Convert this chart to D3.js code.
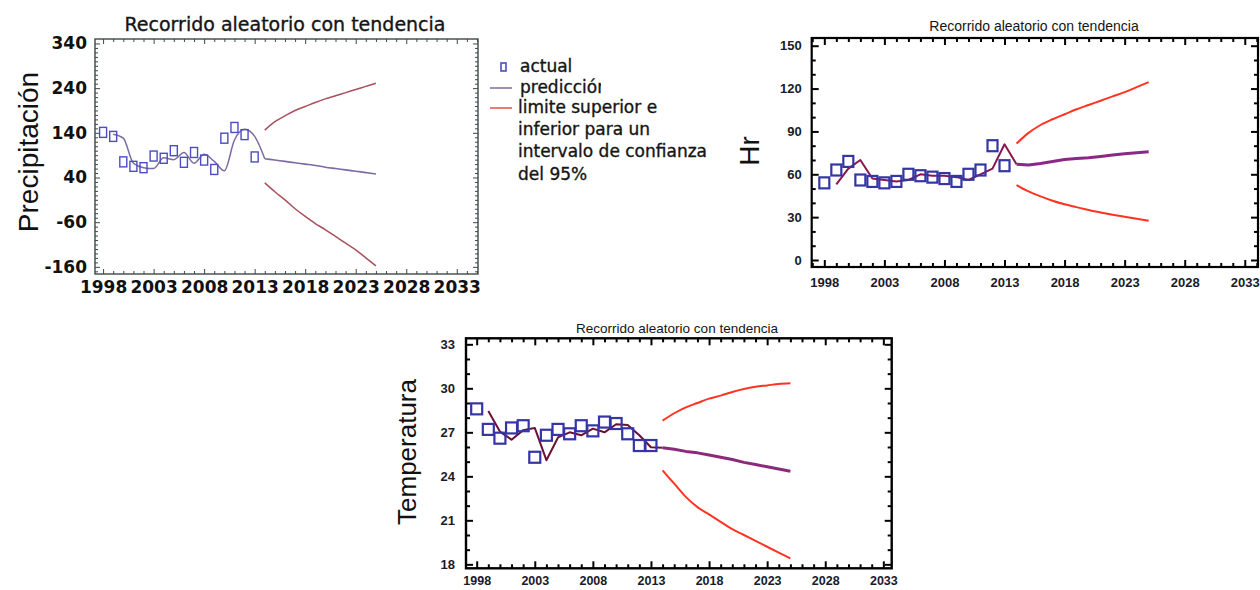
<!DOCTYPE html>
<html><head><meta charset="utf-8">
<script src="https://cdn.jsdelivr.net/npm/d3@7"></script>
<style>body{margin:0;background:#fff}svg{display:block}</style>
</head><body>
<svg id="c" width="1260" height="590"></svg>
<script>
// ---------------- data ----------------
const yearsObs = [1998,1999,2000,2001,2002,2003,2004,2005,2006,2007,2008,2009,2010,2011,2012,2013];
const yearsFit = [1999,2000,2001,2002,2003,2004,2005,2006,2007,2008,2009,2010,2011,2012,2013];
const yearsFc  = [2014,2015,2016,2017,2018,2019,2020,2021,2022,2023,2024,2025];
const xTickYears = [1998,2003,2008,2013,2018,2023,2028,2033];
const chartTitle = "Recorrido aleatorio con tendencia";

// Precipitación
const precipActual   = [141,132,75,65,62,88,83,100,74,96,79,58,128,152,136,86];
const precipFitted   = [137,128,72,62,60,84,80,96,72,92,76,55,124,148,132];
const precipForecast = [82,79,76,73,70,67,63,60,57,54,51,48];
const precipUpper    = [146,165,178,190,199,208,216,223,230,237,244,251];
const precipLower    = [28,8,-10,-30,-47,-63,-77,-92,-107,-122,-140,-158];
const precipTicks    = [340,240,140,40,-60,-160];

// Hr
const hrActual   = [54,63,69,56,55,54,55,60,59,58,57,55,60,63,80,66];
const hrFitted   = [53,64,70,57,56,55,56,60,59,59,58,56,60,64,81];
const hrForecast = [67,66.5,67.5,69,70.4,71,71.5,72.5,73.5,74.3,75,75.7];
const hrUpper    = [81.5,89,94.5,98.5,102,105.5,108.5,111.5,114.5,117.5,121,124.5];
const hrLower    = [52.5,48,44.5,41.5,39,37,35,33.3,31.7,30.2,28.8,27.5];
const hrTicks    = [0,30,60,90,120,150];

// Temperatura
const tempActual   = [28.6,27.2,26.6,27.3,27.45,25.3,26.8,27.2,26.9,27.45,27.1,27.7,27.6,26.9,26.1,26.1];
const tempFitted   = [28.45,27.05,26.5,27.15,27.3,25.1,26.65,27.0,26.8,27.25,27.0,27.55,27.5,26.8,25.98];
const tempForecast = [25.95,25.85,25.7,25.6,25.45,25.3,25.15,24.95,24.8,24.65,24.5,24.35];
const tempUpper    = [27.8,28.3,28.7,29.0,29.3,29.5,29.75,29.95,30.1,30.2,30.3,30.35];
const tempLower    = [24.4,23.5,22.6,21.9,21.4,20.9,20.4,20.0,19.6,19.2,18.8,18.4];
const tempTicks    = [18,21,24,27,30,33];

const legendLabels = ["actual","predicción","limite superior e","inferior para un","intervalo de confianza","del 95%"];

// ---------------- drawing ----------------
const svg = d3.select("#c");
const fmtTick = d => String(d);

function drawPanel(c) {
  const g = svg.append("g");
  const x = d3.scaleLinear().domain(c.xDomain).range([c.left, c.right]);
  const y = d3.scaleLinear().domain(c.yDomain).range([c.bottom, c.top]);

  const xMinor = d3.range(Math.ceil(c.xDomain[0]), Math.floor(c.xDomain[1]) + 1).filter(v => !xTickYears.includes(v));
  const yMinor = d3.range(Math.ceil(c.yDomain[0] / c.yMinorStep) * c.yMinorStep, c.yDomain[1], c.yMinorStep)
                   .filter(v => !c.yTicks.some(t => Math.abs(t - v) < 1e-6));

  const sides = [
    {ax: d3.axisBottom, s: x, tr: `translate(0,${c.bottom})`, major: xTickYears, minor: xMinor, lab: true, pad: c.xPad, fs: c.xFont},
    {ax: d3.axisTop,    s: x, tr: `translate(0,${c.top})`,    major: xTickYears, minor: xMinor, lab: false},
    {ax: d3.axisLeft,   s: y, tr: `translate(${c.left},0)`,   major: c.yTicks,   minor: yMinor, lab: true, pad: c.yPad, fs: c.yFont},
    {ax: d3.axisRight,  s: y, tr: `translate(${c.right},0)`,  major: c.yTicks,   minor: yMinor, lab: false}
  ];
  sides.forEach(sd => {
    const gm = g.append("g").attr("transform", sd.tr)
      .call(sd.ax(sd.s).tickValues(sd.minor).tickSize(-c.minorLen).tickFormat(""));
    gm.select(".domain").remove();
    gm.selectAll(".tick line").attr("stroke", c.frameColor).attr("stroke-width", c.tickWidth);
    const ga = g.append("g").attr("transform", sd.tr)
      .call(sd.ax(sd.s).tickValues(sd.major).tickSize(-c.majorLen)
        .tickPadding(sd.pad || 3).tickFormat(sd.lab ? fmtTick : ""));
    ga.select(".domain").remove();
    ga.selectAll(".tick line").attr("stroke", c.frameColor).attr("stroke-width", c.tickWidth);
    ga.selectAll(".tick text").attr("font-family", c.tickFamily).attr("font-weight", "bold")
      .attr("font-size", sd.fs).attr("fill", c.tickColor);
  });

  g.append("rect").attr("x", c.left).attr("y", c.top)
    .attr("width", c.right - c.left).attr("height", c.bottom - c.top)
    .attr("fill", "none").attr("stroke", c.frameColor).attr("stroke-width", c.frameWidth);

  // title
  g.append("text").attr("x", c.titleX).attr("y", c.titleY).attr("text-anchor", "middle")
    .attr("font-family", c.titleFamily).attr("font-size", c.titleSize).attr("fill", "#151515")
    .attr("stroke", "#151515").attr("stroke-width", c.titleStroke)
    .text(chartTitle);
  // y label
  g.append("text").attr("transform", `translate(${c.ylabX},${c.ylabY}) rotate(-90)`)
    .attr("text-anchor", "middle").attr("font-family", "Liberation Sans, Arial, sans-serif")
    .attr("font-size", c.ylabSize).attr("fill", "#111").text(c.ylab);

  // limits
  const lineFc = d3.line().x((d, i) => x(yearsFc[i])).y(d => y(d)).curve(d3.curveMonotoneX);
  [c.upper, c.lower].forEach(arr => {
    g.append("path").attr("d", lineFc(arr)).attr("fill", "none")
      .attr("stroke", c.limitColor).attr("stroke-width", c.limitWidth);
  });

  // fitted (historical) + first forecast step
  const fitPts = c.fitted.map((v, i) => [yearsFit[i], v]).concat([[yearsFc[0], c.forecast[0]]]);
  const fcPts = c.forecast.map((v, i) => [yearsFc[i], v]);
  const ln = d3.line().x(d => x(d[0])).y(d => y(d[1])).curve(c.curve);
  g.append("path").attr("d", ln(fitPts)).attr("fill", "none")
    .attr("stroke", c.fitColor).attr("stroke-width", c.fitWidth).attr("stroke-linejoin", "round");
  g.append("path").attr("d", ln(fcPts)).attr("fill", "none")
    .attr("stroke", c.fcColor).attr("stroke-width", c.fcWidth).attr("stroke-linejoin", "round");

  // actual squares
  g.selectAll("rect.act").data(c.actual).enter().append("rect").attr("class", "act")
    .attr("x", (d, i) => x(yearsObs[i]) - c.sqW / 2).attr("y", d => y(d) - c.sqH / 2)
    .attr("width", c.sqW).attr("height", c.sqH)
    .attr("fill", "none").attr("stroke", c.actColor).attr("stroke-width", c.sqStroke);
}

// Panel 1: Precipitación
drawPanel({
  left: 95, right: 478, top: 39, bottom: 274,
  xDomain: [1997.2, 2035.1], yDomain: [-176, 350],
  yTicks: precipTicks, yMinorStep: 10,
  actual: precipActual, fitted: precipFitted, forecast: precipForecast, upper: precipUpper, lower: precipLower,
  frameColor: "#3c4848", frameWidth: 1.4, tickWidth: 1, majorLen: 5, minorLen: 3,
  tickFamily: "DejaVu Sans, sans-serif", tickColor: "#111", xFont: 17, yFont: 17, xPad: 7, yPad: 8,
  titleX: 285, titleY: 31, titleFamily: "DejaVu Sans, sans-serif", titleSize: 19, titleStroke: 0.35,
  ylab: "Precipitación", ylabX: 38, ylabY: 152, ylabSize: 28,
  limitColor: "#a8505c", limitWidth: 1.5,
  fitColor: "#7c6aa0", fitWidth: 1.5, fcColor: "#7c6aa0", fcWidth: 1.6, curve: d3.curveMonotoneX,
  actColor: "#4c4cc4", sqW: 7, sqH: 10, sqStroke: 1.4
});

// Panel 2: Hr
drawPanel({
  left: 811.7, right: 1258, top: 38, bottom: 267,
  xDomain: [1996.95, 2034.1], yDomain: [-4.9, 155.4],
  yTicks: hrTicks, yMinorStep: 10,
  actual: hrActual, fitted: hrFitted, forecast: hrForecast, upper: hrUpper, lower: hrLower,
  frameColor: "#000", frameWidth: 2.2, tickWidth: 2, majorLen: 7, minorLen: 4,
  tickFamily: "Liberation Sans, Arial, sans-serif", tickColor: "#1a1a2a", xFont: 13, yFont: 13, xPad: 11, yPad: 10,
  titleX: 1034, titleY: 31, titleFamily: "Liberation Sans, Arial, sans-serif", titleSize: 14, titleStroke: 0,
  ylab: "Hr", ylabX: 759, ylabY: 151, ylabSize: 28,
  limitColor: "#ff3322", limitWidth: 2,
  fitColor: "#8a1550", fitWidth: 2, fcColor: "#8b2787", fcWidth: 3, curve: d3.curveLinear,
  actColor: "#3535a5", sqW: 10, sqH: 11, sqStroke: 2.2
});

// Panel 3: Temperatura
drawPanel({
  left: 466, right: 891.7, top: 338.3, bottom: 568.3,
  xDomain: [1997.08, 2033.72], yDomain: [17.73, 33.41],
  yTicks: tempTicks, yMinorStep: 1,
  actual: tempActual, fitted: tempFitted, forecast: tempForecast, upper: tempUpper, lower: tempLower,
  frameColor: "#000", frameWidth: 2.4, tickWidth: 2, majorLen: 7, minorLen: 4,
  tickFamily: "Liberation Sans, Arial, sans-serif", tickColor: "#1a1a2a", xFont: 12.5, yFont: 13, xPad: 7.5, yPad: 11,
  titleX: 677, titleY: 333, titleFamily: "Liberation Sans, Arial, sans-serif", titleSize: 13.5, titleStroke: 0,
  ylab: "Temperatura", ylabX: 416, ylabY: 452, ylabSize: 26,
  limitColor: "#ff3322", limitWidth: 2,
  fitColor: "#6a1035", fitWidth: 2, fcColor: "#8b2a7a", fcWidth: 3, curve: d3.curveLinear,
  actColor: "#3535a5", sqW: 11, sqH: 11, sqStroke: 2.2
});

// Legend (panel 1)
const lg = svg.append("g");
const defs = svg.append("defs");
defs.append("clipPath").attr("id", "lgclip").append("rect")
  .attr("x", 480).attr("y", 0).attr("width", 121).attr("height", 300);
lg.append("rect").attr("x", 501).attr("y", 63).attr("width", 5).attr("height", 8)
  .attr("fill", "none").attr("stroke", "#4c4cc4").attr("stroke-width", 1.6);
lg.append("line").attr("x1", 490).attr("x2", 512).attr("y1", 88).attr("y2", 88)
  .attr("stroke", "#7c6aa0").attr("stroke-width", 1.5);
lg.append("line").attr("x1", 490).attr("x2", 512).attr("y1", 108).attr("y2", 108)
  .attr("stroke", "#e0504a").attr("stroke-width", 1.5);
const lgY = [72, 93, 113, 135, 157, 180];
legendLabels.forEach((t, i) => {
  const tx = lg.append("text").attr("x", i < 2 ? 520 : 518).attr("y", lgY[i])
    .attr("font-family", "DejaVu Sans, sans-serif").attr("font-size", 17)
    .attr("fill", "#151515").attr("stroke", "#151515").attr("stroke-width", 0.35).text(t);
  if (i === 1) tx.attr("clip-path", "url(#lgclip)");
});
</script>
</body></html>
